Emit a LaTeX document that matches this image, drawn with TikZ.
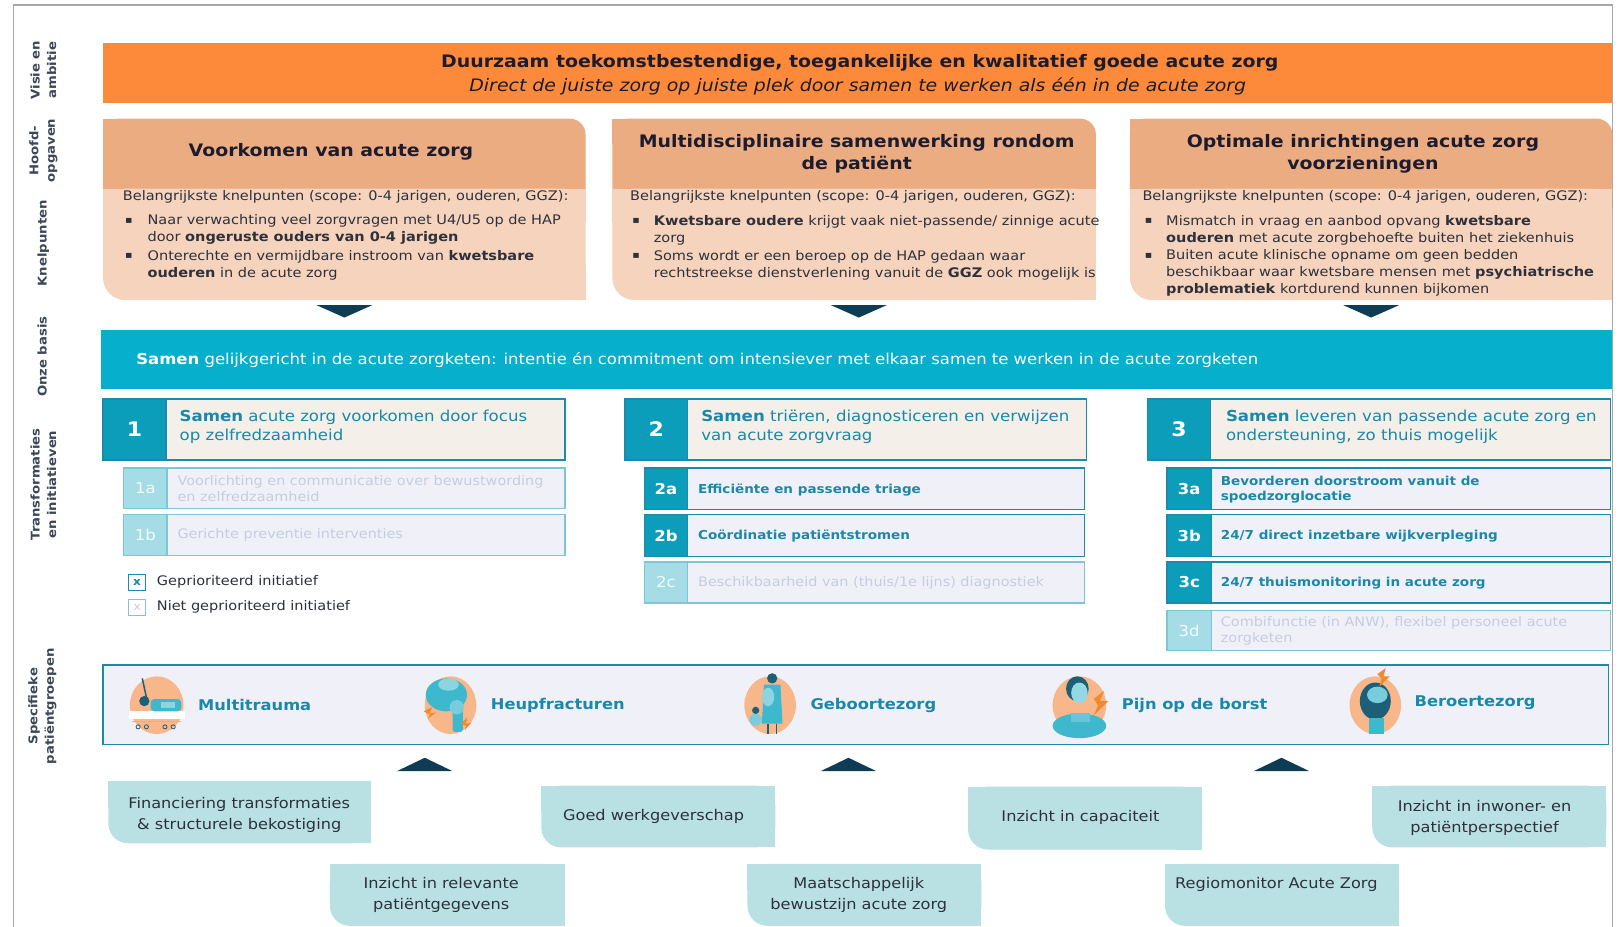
\documentclass[tikz,border=0pt]{standalone}
\usepackage{fontspec}
\setmainfont{DejaVu Sans}[FakeStretch=1.1]
\usetikzlibrary{fit}
\definecolor{orng}{HTML}{FD8A3B}
\definecolor{salband}{HTML}{ECAC82}
\definecolor{salbody}{HTML}{F5D3BD}
\definecolor{navy}{HTML}{0E3C55}
\definecolor{tealband}{HTML}{06B0CC}
\definecolor{numteal}{HTML}{0C9DBB}
\definecolor{boxborder}{HTML}{1A8BA8}
\definecolor{beige}{HTML}{F4EFE9}
\definecolor{lav}{HTML}{F0F1F8}
\definecolor{tealtxt}{HTML}{1A88A8}
\definecolor{lightnumc}{HTML}{A6DCE6}
\definecolor{lightborder}{HTML}{7CC6D8}
\definecolor{lighttxtc}{HTML}{C5CDDF}
\definecolor{sidec}{HTML}{3C4859}
\definecolor{darktxt}{HTML}{2E313B}
\definecolor{titletxt}{HTML}{1C1C2E}
\definecolor{bottomfill}{HTML}{B9E1E4}
\definecolor{peach}{HTML}{F7B78A}
\definecolor{framegray}{HTML}{A6A6A6}
\definecolor{iconteal}{HTML}{3DB8CC}
\definecolor{icondark}{HTML}{1C5F77}
\definecolor{iconorange}{HTML}{F08A2C}
\newcommand\hdrbox[3]{%
  \fill[salband, rounded corners=16pt] (#1,115) rectangle (#2,205);
  \fill[salband] (#1,115) rectangle ({#1+25},140);
  \fill[salbody, rounded corners=22pt] (#1,183) rectangle (#2,291);
  \fill[salbody] (#1,183) rectangle (#2,215);
  \fill[salbody] ({#2-30},255) rectangle (#2,291);
  \node[fit={(#1,115) (#2,291)}, inner sep=0] (#3) {};
}
\newcommand\btmbox[5]{%
  \fill[bottomfill, rounded corners=20pt] (#1,#2) rectangle (#3,#4);
  \fill[bottomfill] (#1,#2) rectangle (#3,{#2+25});
  \fill[bottomfill] ({#3-25},#2) rectangle (#3,#4);
  \node[fit={(#1,#2) (#3,#4)}, inner sep=0] (#5) {};
}
\begin{document}
\begin{tikzpicture}[x=1.031pt,y=-1.031pt,
  sidelab/.style={rotate=90, font=\fontsize{12}{16.5}\selectfont\bfseries, text=sidec, align=center, inner sep=0},
  hdtitle/.style={font=\fontsize{17.2}{22.5}\selectfont\bfseries, text=titletxt, align=center, inner sep=0},
  bodytxt/.style={anchor=west, font=\fontsize{13.2}{17}\selectfont, text=darktxt, align=left, inner sep=0},
  bul/.style={font=\fontsize{10}{12}\selectfont, text=darktxt, inner sep=0},
  mainbox/.style={fill=beige, draw=boxborder, line width=1.6pt, inner sep=0},
  numbox/.style={fill=numteal, draw=boxborder, line width=1.6pt, inner sep=0},
  numtxt/.style={text=white, font=\fontsize{20}{24}\selectfont\bfseries, inner sep=0},
  maintxt/.style={anchor=west, text=tealtxt, font=\fontsize{15.1}{19.5}\selectfont, align=left, inner sep=0},
  subbody/.style={fill=lav, draw=boxborder, line width=1.3pt, inner sep=0},
  subnum/.style={fill=numteal, draw=boxborder, line width=1.3pt, inner sep=0},
  lbody/.style={fill=lav, draw=lightborder, line width=1.3pt, inner sep=0},
  lnum/.style={fill=lightnumc, draw=lightborder, line width=1.3pt, inner sep=0},
  subnumtxt/.style={text=white, font=\fontsize{15}{18}\selectfont\bfseries, inner sep=0},
  lnumtxt/.style={text=white!85!lightnumc, font=\fontsize{15}{18}\selectfont, inner sep=0},
  subtxt/.style={anchor=west, text=tealtxt, font=\fontsize{12.3}{15.5}\selectfont\bfseries, align=left, inner sep=0},
  ltxt/.style={anchor=west, text=lighttxtc, font=\fontsize{13.1}{15.5}\selectfont, align=left, inner sep=0},
  pglab/.style={anchor=west, text=tealtxt, font=\fontsize{14.8}{18}\selectfont\bfseries, inner sep=0},
  btmtxt/.style={text=darktxt, font=\fontsize{14.7}{21}\selectfont, align=center, inner sep=0},
  legtxt/.style={anchor=west, text=darktxt, font=\fontsize{13.2}{15}\selectfont, inner sep=0}
]
\useasboundingbox (0,0) rectangle (1569.4,898.2);
\fill[white] (0,0) rectangle (1569.4,898.2);
% frame
\draw[framegray, line width=1.8pt] (13,905) -- (13,4.5) -- (1564,4.5) -- (1564,905);

% side labels
\node[sidelab] (s1) at (42,68) {Visie en\\ambitie};
\node[sidelab] (s2) at (42,146) {Hoofd-\\opgaven};
\node[sidelab] (s3) at (42,236) {Knelpunten};
\node[sidelab] (s4) at (41,346) {Onze basis};
\node[sidelab] (s5) at (42,470) {Transformaties\\en initiatieven};
\node[sidelab] (s6) at (41,685) {Specifieke\\patiëntgroepen};

% vision banner
\node[fit={(100,42) (1564,100)}, fill=orng, inner sep=0] (visie) {};
\node[font=\fontsize{17.2}{21}\selectfont\bfseries, text=titletxt, inner sep=0] (visie1) at (834,61) {Duurzaam toekomstbestendige, toegankelijke en kwalitatief goede acute zorg};
\node[font=\fontsize{17.2}{21}\selectfont\itshape, text=titletxt, inner sep=0] (visie2) at (832,84) {Direct de juiste zorg op juiste plek door samen te werken als één in de acute zorg};

% header boxes
\hdrbox{100}{568}{hb1}
\hdrbox{594}{1063}{hb2}
\hdrbox{1096}{1564}{hb3}
\node[hdtitle] (h1t) at (321,147) {Voorkomen van acute zorg};
\node[hdtitle] (h2t) at (831,149) {Multidisciplinaire samenwerking rondom\\de patiënt};
\node[hdtitle] (h3t) at (1322,149) {Optimale inrichtingen acute zorg\\voorzieningen};

\node[bodytxt] (k1) at (119,191) {Belangrijkste knelpunten (scope: 0-4 jarigen, ouderen, GGZ):};
\node[bul] (k1b1) at (125,214) {▪};
\node[bodytxt] (k1t1) at (143,223) {Naar verwachting veel zorgvragen met U4/U5 op de HAP\\door \textbf{ongeruste ouders van 0-4 jarigen}};
\node[bul] (k1b2) at (125,248) {▪};
\node[bodytxt] (k1t2) at (143,257) {Onterechte en vermijdbare instroom van \textbf{kwetsbare}\\\textbf{ouderen} in de acute zorg};

\node[bodytxt] (k2) at (611,191) {Belangrijkste knelpunten (scope: 0-4 jarigen, ouderen, GGZ):};
\node[bul] (k2b1) at (617,214) {▪};
\node[bodytxt] (k2t1) at (634,223) {\textbf{Kwetsbare oudere} krijgt vaak niet-passende/ zinnige acute\\zorg};
\node[bul] (k2b2) at (617,248) {▪};
\node[bodytxt] (k2t2) at (634,257) {Soms wordt er een beroep op de HAP gedaan waar\\rechtstreekse dienstverlening vanuit de \textbf{GGZ} ook mogelijk is};

\node[bodytxt] (k3) at (1108,191) {Belangrijkste knelpunten (scope: 0-4 jarigen, ouderen, GGZ):};
\node[bul] (k3b1) at (1114,214) {▪};
\node[bodytxt] (k3t1) at (1131,223) {Mismatch in vraag en aanbod opvang \textbf{kwetsbare}\\\textbf{ouderen} met acute zorgbehoefte buiten het ziekenhuis};
\node[bul] (k3b2) at (1114,248) {▪};
\node[bodytxt] (k3t2) at (1131,265) {Buiten acute klinische opname om geen bedden\\beschikbaar waar kwetsbare mensen met \textbf{psychiatrische}\\\textbf{problematiek} kortdurend kunnen bijkomen};

% down triangles
\fill[navy] (307,296) -- (361,296) -- (334,308) -- cycle;
\fill[navy] (806,296) -- (860,296) -- (833,308) -- cycle;
\fill[navy] (1303,296) -- (1357,296) -- (1330,308) -- cycle;

% basis band
\node[fit={(98,320) (1564,377)}, fill=tealband, inner sep=0] (basis) {};
\node[anchor=west, text=white, font=\fontsize{15}{18}\selectfont, inner sep=0] (basistxt) at (132,349) {\makebox[1122pt][s]{\textbf{Samen} gelijkgericht in de acute zorgketen: intentie én commitment om intensiever met elkaar samen te werken in de acute zorgketen}};

% transformations
\node[mainbox, fit={(100,387) (548,446)}] (t1) {};
\node[numbox, fit={(100,387) (161,446)}] (t1n) {};
\node[numtxt] (t1num) at (t1n.center) {1};
\node[maintxt] (t1t) at (174,414) {\textbf{Samen} acute zorg voorkomen door focus\\op zelfredzaamheid};

\node[mainbox, fit={(606,387) (1054,446)}] (t2) {};
\node[numbox, fit={(606,387) (667,446)}] (t2n) {};
\node[numtxt] (t2num) at (t2n.center) {2};
\node[maintxt] (t2t) at (680,414) {\textbf{Samen} triëren, diagnosticeren en verwijzen\\van acute zorgvraag};

\node[mainbox, fit={(1113,387) (1562,446)}] (t3) {};
\node[numbox, fit={(1113,387) (1174,446)}] (t3n) {};
\node[numtxt] (t3num) at (t3n.center) {3};
\node[maintxt] (t3t) at (1189,414) {\textbf{Samen} leveren van passende acute zorg en\\ondersteuning, zo thuis mogelijk};

% sub items column 1
\node[lbody, fit={(120,454) (548,493)}] (i1a) {};
\node[lnum, fit={(120,454) (162,493)}] (i1an) {};
\node[lnumtxt] (i1al) at (i1an.center) {1a};
\node[ltxt] (i1at) at (172,474) {Voorlichting en communicatie over bewustwording\\en zelfredzaamheid};
\node[lbody, fit={(120,499) (548,539)}] (i1b) {};
\node[lnum, fit={(120,499) (162,539)}] (i1bn) {};
\node[lnumtxt] (i1bl) at (i1bn.center) {1b};
\node[ltxt] (i1bt) at (172,519) {Gerichte preventie interventies};

% column 2
\node[subbody, fit={(625,454) (1052,494)}] (i2a) {};
\node[subnum, fit={(625,454) (667,494)}] (i2an) {};
\node[subnumtxt] (i2al) at (i2an.center) {2a};
\node[subtxt] (i2at) at (677,475) {Efficiënte en passende triage};
\node[subbody, fit={(625,499) (1052,540)}] (i2b) {};
\node[subnum, fit={(625,499) (667,540)}] (i2bn) {};
\node[subnumtxt] (i2bl) at (i2bn.center) {2b};
\node[subtxt] (i2bt) at (677,520) {Coördinatie patiëntstromen};
\node[lbody, fit={(625,545) (1052,585)}] (i2c) {};
\node[lnum, fit={(625,545) (667,585)}] (i2cn) {};
\node[lnumtxt] (i2cl) at (i2cn.center) {2c};
\node[ltxt] (i2ct) at (677,565) {Beschikbaarheid van (thuis/1e lijns) diagnostiek};

% column 3
\node[subbody, fit={(1132,454) (1562,494)}] (i3a) {};
\node[subnum, fit={(1132,454) (1175,494)}] (i3an) {};
\node[subnumtxt] (i3al) at (i3an.center) {3a};
\node[subtxt] (i3at) at (1184,475) {Bevorderen doorstroom vanuit de\\spoedzorglocatie};
\node[subbody, fit={(1132,499) (1562,540)}] (i3b) {};
\node[subnum, fit={(1132,499) (1175,540)}] (i3bn) {};
\node[subnumtxt] (i3bl) at (i3bn.center) {3b};
\node[subtxt] (i3bt) at (1184,520) {24/7 direct inzetbare wijkverpleging};
\node[subbody, fit={(1132,545) (1562,585)}] (i3c) {};
\node[subnum, fit={(1132,545) (1175,585)}] (i3cn) {};
\node[subnumtxt] (i3cl) at (i3cn.center) {3c};
\node[subtxt] (i3ct) at (1184,566) {24/7 thuismonitoring in acute zorg};
\node[lbody, fit={(1132,592) (1562,631)}] (i3d) {};
\node[lnum, fit={(1132,592) (1175,631)}] (i3dn) {};
\node[lnumtxt] (i3dl) at (i3dn.center) {3d};
\node[ltxt] (i3dt) at (1184,612) {Combifunctie (in ANW), flexibel personeel acute\\zorgketen};

% legend
\node[draw=boxborder, fill=white, line width=1pt, minimum width=17pt, minimum height=16pt, inner sep=0, text=tealtxt, font=\fontsize{11}{12}\selectfont\bfseries] (leg1) at (133,565) {x};
\node[legtxt] (leg1t) at (152,564) {Geprioriteerd initiatief};
\node[draw=lightborder, fill=white, line width=1pt, minimum width=17pt, minimum height=16pt, inner sep=0, text=lighttxtc, font=\fontsize{11}{12}\selectfont] (leg2) at (133,589) {x};
\node[legtxt] (leg2t) at (152,589) {Niet geprioriteerd initiatief};

% patient groups
\node[fit={(100,645) (1560,722)}, fill=lav, draw=boxborder, line width=1.5pt, inner sep=0] (pg) {};

% icon 1 multitrauma
\begin{scope}[shift={(152,684)}]
  \fill[peach] (0,0) ellipse [x radius=26, y radius=28];
  \draw[icondark, line width=1.5pt] (-14,-26) -- (-9,-3);
  \fill[white] (-27,6) rectangle (27,13);
  \draw[iconorange!70, line width=1pt] (-24,16) -- (24,16);
  \fill[iconteal, rounded corners=4pt] (-6,-6) rectangle (24,6);
  \fill[icondark] (-12,-4) circle [radius=5];
  \fill[iconteal!60] (4,-3) rectangle (18,3);
  \foreach \wx in {-18,-10,8,16} {\draw[icondark, line width=0.8pt] (\wx,21) circle [radius=2];}
\end{scope}
\node[pglab] (p1) at (192,684) {Multitrauma};

% icon 2 heupfracturen
\begin{scope}[shift={(437,684)}]
  \fill[peach] (0,0) ellipse [x radius=25, y radius=28];
  \fill[iconteal] (-4,-10) ellipse [x radius=20, y radius=16];
  \fill[iconteal!60] (-2,-20) ellipse [x radius=10, y radius=6];
  \fill[iconteal, rounded corners=3pt] (2,-2) rectangle (12,26);
  \fill[iconteal!70] (6,2) circle [radius=7];
  \fill[iconorange] (-26,6) -- (-18,2) -- (-20,8) -- (-14,7) -- (-22,13) -- (-20,9) -- cycle;
  \fill[iconorange] (10,18) -- (16,12) -- (15,18) -- (20,17) -- (14,24) -- (15,20) -- cycle;
\end{scope}
\node[pglab] (p2) at (476,684) {Heupfracturen};

% icon 3 geboortezorg
\begin{scope}[shift={(747,684)}]
  \fill[peach] (0,0) ellipse [x radius=25, y radius=28];
  \fill[icondark] (2,-26) circle [radius=5];
  \fill[iconteal] (-6,-20) -- (10,-20) -- (12,18) -- (-8,18) -- cycle;
  \fill[iconteal!60] (-2,-8) ellipse [x radius=6, y radius=9];
  \draw[icondark, line width=1.5pt] (-2,18) -- (-2,28) (6,18) -- (6,28);
  \fill[iconteal!70] (-14,14) circle [radius=6];
  \fill[icondark] (-14,5) circle [radius=3.5];
\end{scope}
\node[pglab] (p3) at (786,684) {Geboortezorg};

% icon 4 pijn op de borst
\begin{scope}[shift={(1047,684)}]
  \fill[peach] (0,0) ellipse [x radius=26, y radius=28];
  \fill[iconteal] (0,20) ellipse [x radius=26, y radius=12];
  \fill[icondark] (-2,-16) ellipse [x radius=11, y radius=12];
  \fill[iconteal!55] (0,-12) ellipse [x radius=8, y radius=10];
  \fill[iconteal!80] (-8,8) rectangle (10,16);
  \fill[iconorange] (14,-6) -- (24,-14) -- (20,-4) -- (28,-4) -- (14,10) -- (18,0) -- cycle;
\end{scope}
\node[pglab] (p4) at (1088,684) {Pijn op de borst};

% icon 5 beroertezorg
\begin{scope}[shift={(1334,684)}]
  \fill[peach] (0,0) ellipse [x radius=25, y radius=28];
  \fill[icondark] (0,-4) ellipse [x radius=15, y radius=18];
  \fill[iconteal!70] (2,-10) ellipse [x radius=10, y radius=8];
  \fill[iconteal] (-6,12) rectangle (8,28);
  \fill[iconorange] (2,-30) -- (10,-36) -- (8,-28) -- (14,-28) -- (4,-18) -- (6,-26) -- cycle;
\end{scope}
\node[pglab] (p5) at (1372,682) {Beroertezorg};

% up triangles
\fill[navy] (385,748) -- (439,748) -- (412,735) -- cycle;
\fill[navy] (796,748) -- (850,748) -- (823,735) -- cycle;
\fill[navy] (1216,748) -- (1270,748) -- (1243,735) -- cycle;

% bottom boxes
\btmbox{105}{758}{360}{818}{b1}
\node[btmtxt] (b1t) at (232,790) {Financiering transformaties\\\& structurele bekostiging};
\btmbox{525}{762}{752}{822}{b2}
\node[btmtxt] (b2t) at (634,792) {Goed werkgeverschap};
\btmbox{939}{763}{1166}{824}{b3}
\node[btmtxt] (b3t) at (1048,793) {Inzicht in capaciteit};
\btmbox{1331}{762}{1558}{822}{b4}
\node[btmtxt] (b4t) at (1440,793) {Inzicht in inwoner- en\\patiëntperspectief};
\btmbox{320}{838}{548}{898}{b5}
\node[btmtxt] (b5t) at (428,868) {Inzicht in relevante\\patiëntgegevens};
\btmbox{725}{838}{952}{898}{b6}
\node[btmtxt] (b6t) at (833,868) {Maatschappelijk\\bewustzijn acute zorg};
\btmbox{1130}{838}{1357}{898}{b7}
\node[btmtxt] (b7t) at (1238,858) {Regiomonitor Acute Zorg};
\end{tikzpicture}
\end{document}
